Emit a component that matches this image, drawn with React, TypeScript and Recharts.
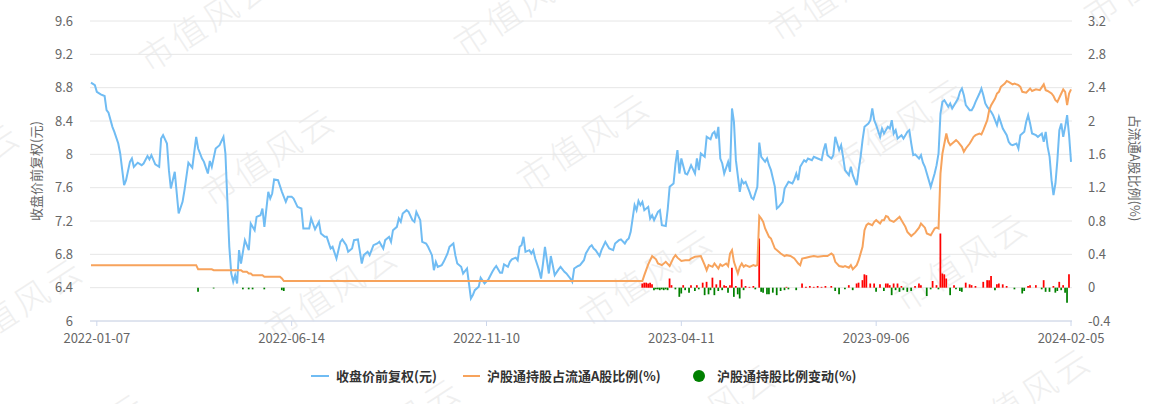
import React from 'react';
import { ComposedChart, Line, Bar, Cell, XAxis, YAxis, CartesianGrid } from 'recharts';

// trading-day index of each labelled date on the x axis
const dateTicks = [3, 103, 203, 303, 403, 503];
const dateLabels = ['2022-01-07', '2022-06-14', '2022-11-10', '2023-04-11', '2023-09-06', '2024-02-05'];

const priceTicks = [6, 6.4, 6.8, 7.2, 7.6, 8, 8.4, 8.8, 9.2, 9.6];
const ratioTicks = [-0.4, 0, 0.4, 0.8, 1.2, 1.6, 2, 2.4, 2.8, 3.2];

// [trading day, close price (qfq)]
const closePrice: [number, number][] = [
  [0, 8.86], [2, 8.83], [3, 8.75], [5, 8.72], [7, 8.7], [8, 8.53], [9, 8.5], [11, 8.33], [12, 8.27], [14, 8.13],
  [15, 8.01], [16, 7.82], [17, 7.63], [18, 7.69], [20, 7.91], [21, 7.95], [22, 7.85], [24, 7.9], [26, 7.87], [27, 7.89],
  [29, 7.98], [30, 7.94], [31, 7.99], [33, 7.88], [35, 7.85], [36, 8.19], [37, 8.23], [39, 8.13], [40, 7.81], [41, 7.59],
  [43, 7.79], [45, 7.29], [47, 7.43], [48, 7.57], [50, 7.9], [52, 7.84], [54, 8.21], [55, 8.07], [57, 7.95], [58, 7.91],
  [60, 7.77], [61, 7.92], [62, 7.85], [64, 8.07], [66, 8.11], [68, 8.21], [69, 8.01], [70, 7.45], [71, 6.89], [72, 6.57],
  [73, 6.47], [74, 6.55], [75, 6.45], [76, 6.85], [77, 6.69], [79, 6.97], [81, 6.85], [82, 7.17], [84, 7.09], [85, 7.25],
  [87, 7.27], [88, 7.35], [89, 7.13], [91, 7.55], [92, 7.47], [93, 7.53], [94, 7.7], [96, 7.69], [98, 7.55], [100, 7.43],
  [101, 7.49], [103, 7.49], [104, 7.47], [106, 7.37], [108, 7.35], [109, 7.11], [111, 7.11], [112, 7.11], [113, 7.23], [115, 7.1],
  [117, 7.19], [118, 7.05], [120, 7.01], [121, 7.01], [123, 6.87], [124, 6.89], [126, 6.75], [128, 6.95], [129, 6.98], [131, 6.91],
  [132, 6.83], [134, 6.87], [135, 6.97], [137, 6.98], [139, 6.69], [140, 6.79], [142, 6.83], [143, 6.79], [145, 6.91], [147, 6.93],
  [148, 6.95], [150, 6.87], [151, 6.97], [153, 7.01], [154, 6.95], [155, 7.09], [157, 7.13], [158, 7.23], [159, 7.19], [160, 7.29],
  [162, 7.33], [163, 7.31], [165, 7.21], [166, 7.19], [167, 7.31], [169, 7.21], [170, 6.95], [172, 6.93], [173, 6.89], [175, 6.79],
  [176, 6.61], [177, 6.71], [178, 6.65], [180, 6.67], [181, 6.71], [183, 6.81], [184, 6.89], [186, 6.93], [187, 6.79], [188, 6.69],
  [190, 6.65], [191, 6.57], [193, 6.63], [194, 6.45], [195, 6.27], [196, 6.31], [197, 6.37], [199, 6.41], [200, 6.52], [202, 6.45],
  [204, 6.5], [206, 6.59], [207, 6.63], [208, 6.66], [210, 6.58], [211, 6.58], [212, 6.68], [214, 6.65], [215, 6.71], [216, 6.74],
  [218, 6.76], [219, 6.73], [220, 6.89], [221, 6.91], [222, 7.01], [223, 6.83], [225, 6.85], [226, 6.81], [227, 6.85], [228, 6.75],
  [230, 6.61], [231, 6.51], [232, 6.69], [233, 6.89], [234, 6.73], [235, 6.57], [236, 6.78], [237, 6.67], [238, 6.55], [240, 6.62],
  [241, 6.65], [243, 6.59], [244, 6.57], [246, 6.51], [247, 6.47], [248, 6.63], [250, 6.66], [251, 6.67], [253, 6.73], [254, 6.81],
  [256, 6.89], [257, 6.91], [258, 6.87], [259, 6.85], [261, 6.78], [262, 6.85], [264, 6.95], [265, 6.91], [266, 6.87], [268, 6.85],
  [269, 6.93], [271, 6.97], [272, 6.98], [274, 6.93], [275, 6.97], [276, 6.99], [277, 7.07], [279, 7.39], [280, 7.33], [281, 7.44],
  [282, 7.39], [283, 7.43], [284, 7.33], [286, 7.37], [287, 7.23], [288, 7.27], [289, 7.21], [291, 7.31], [292, 7.33], [293, 7.15],
  [295, 7.14], [296, 7.34], [297, 7.61], [299, 7.65], [300, 7.89], [301, 8.05], [302, 7.77], [303, 7.95], [305, 7.77], [306, 7.76],
  [307, 7.81], [308, 7.87], [310, 7.77], [311, 7.95], [312, 7.81], [313, 8.01], [315, 7.97], [316, 8.21], [318, 8.18], [319, 8.25],
  [320, 8.27], [321, 8.19], [322, 8.33], [323, 7.95], [324, 7.89], [325, 7.77], [327, 7.91], [328, 7.79], [329, 8.55], [330, 8.39],
  [331, 7.93], [333, 7.55], [334, 7.69], [335, 7.65], [336, 7.67], [338, 7.55], [339, 7.48], [340, 7.46], [342, 7.61], [343, 8.14],
  [344, 7.97], [346, 7.91], [347, 7.95], [348, 7.87], [349, 7.81], [351, 7.61], [352, 7.35], [353, 7.37], [355, 7.43], [356, 7.59],
  [357, 7.63], [358, 7.67], [360, 7.65], [361, 7.7], [362, 7.77], [363, 7.69], [364, 7.85], [366, 7.93], [367, 7.91], [368, 7.95],
  [370, 7.93], [371, 7.97], [373, 7.95], [375, 7.93], [376, 8.05], [377, 8.13], [378, 7.99], [380, 7.95], [381, 7.99], [382, 8.21],
  [384, 8.05], [385, 8.11], [386, 7.97], [387, 7.81], [389, 7.75], [390, 7.85], [391, 7.75], [393, 7.63], [394, 7.81], [395, 7.97],
  [396, 8.17], [397, 8.33], [399, 8.37], [400, 8.41], [401, 8.55], [402, 8.41], [403, 8.35], [405, 8.21], [406, 8.31], [407, 8.25],
  [409, 8.33], [410, 8.31], [411, 8.41], [412, 8.25], [413, 8.29], [414, 8.19], [416, 8.23], [417, 8.19], [418, 8.23], [419, 8.27],
  [420, 8.29], [421, 8.13], [422, 7.99], [423, 8.0], [425, 7.95], [426, 7.99], [427, 7.9], [428, 7.85], [429, 7.77], [431, 7.61],
  [432, 7.69], [433, 7.77], [434, 7.87], [435, 8.01], [436, 8.49], [437, 8.63], [438, 8.65], [440, 8.57], [441, 8.61], [442, 8.55],
  [443, 8.59], [445, 8.67], [446, 8.75], [447, 8.79], [448, 8.71], [449, 8.59], [451, 8.53], [452, 8.53], [453, 8.57], [454, 8.63],
  [456, 8.73], [457, 8.79], [458, 8.71], [459, 8.61], [460, 8.57], [462, 8.51], [463, 8.47], [464, 8.41], [465, 8.35], [466, 8.45],
  [467, 8.38], [468, 8.31], [470, 8.23], [471, 8.15], [472, 8.12], [473, 8.11], [475, 8.13], [476, 8.07], [477, 8.23], [479, 8.27],
  [480, 8.39], [481, 8.47], [482, 8.37], [483, 8.25], [485, 8.23], [486, 8.21], [487, 8.23], [488, 8.25], [489, 8.15], [490, 8.27],
  [491, 8.09], [492, 7.97], [493, 7.69], [494, 7.51], [495, 7.65], [496, 7.93], [497, 8.29], [498, 8.37], [499, 8.21], [500, 8.33],
  [501, 8.47], [502, 8.23], [503, 7.91],
];

// [trading day, northbound holding as % of float A shares]
const holdRatio: [number, number][] = [
  [0, 0.27], [54, 0.27], [55, 0.22], [62, 0.22], [63, 0.21], [77, 0.21], [78, 0.19], [80, 0.19], [81, 0.17], [82, 0.17],
  [83, 0.15], [88, 0.15], [89, 0.13], [97, 0.13], [98, 0.11], [99, 0.08], [283, 0.08], [284, 0.15], [286, 0.28], [288, 0.38],
  [290, 0.34], [291, 0.29], [293, 0.27], [295, 0.31], [297, 0.26], [299, 0.36], [300, 0.39], [301, 0.36], [303, 0.32], [305, 0.33],
  [307, 0.33], [308, 0.35], [310, 0.37], [313, 0.38], [315, 0.27], [316, 0.21], [317, 0.27], [319, 0.25], [320, 0.29], [322, 0.23],
  [323, 0.28], [324, 0.26], [326, 0.29], [327, 0.26], [328, 0.41], [329, 0.45], [330, 0.31], [332, 0.17], [333, 0.25], [334, 0.29],
  [335, 0.25], [336, 0.27], [338, 0.25], [340, 0.27], [341, 0.26], [342, 0.27], [343, 0.86], [344, 0.83], [345, 0.79], [346, 0.71],
  [348, 0.61], [349, 0.59], [350, 0.53], [351, 0.47], [353, 0.43], [354, 0.41], [356, 0.38], [357, 0.39], [359, 0.38], [361, 0.35],
  [363, 0.29], [364, 0.27], [365, 0.35], [367, 0.36], [369, 0.37], [371, 0.38], [373, 0.37], [376, 0.38], [378, 0.38], [380, 0.41],
  [381, 0.39], [382, 0.31], [384, 0.26], [386, 0.25], [387, 0.26], [389, 0.24], [390, 0.27], [391, 0.22], [393, 0.27], [394, 0.33],
  [396, 0.49], [397, 0.69], [398, 0.75], [399, 0.77], [401, 0.75], [402, 0.79], [403, 0.81], [405, 0.77], [406, 0.81], [407, 0.81],
  [408, 0.86], [409, 0.85], [410, 0.81], [412, 0.79], [413, 0.81], [415, 0.85], [416, 0.81], [418, 0.73], [419, 0.67], [421, 0.62],
  [423, 0.66], [425, 0.72], [426, 0.77], [428, 0.72], [429, 0.65], [431, 0.63], [433, 0.71], [434, 0.72], [435, 0.71], [436, 1.37],
  [437, 1.61], [439, 1.85], [440, 1.75], [441, 1.71], [442, 1.73], [444, 1.77], [445, 1.75], [447, 1.69], [448, 1.63], [449, 1.67],
  [451, 1.73], [452, 1.77], [453, 1.81], [454, 1.83], [456, 1.85], [457, 1.84], [458, 1.89], [460, 2.01], [461, 2.13], [462, 2.19],
  [464, 2.27], [465, 2.33], [466, 2.35], [467, 2.41], [469, 2.45], [470, 2.48], [471, 2.47], [473, 2.44], [474, 2.45], [476, 2.43],
  [477, 2.41], [478, 2.35], [480, 2.34], [482, 2.39], [483, 2.36], [485, 2.38], [487, 2.37], [489, 2.44], [490, 2.37], [491, 2.36],
  [493, 2.33], [494, 2.3], [495, 2.25], [496, 2.23], [498, 2.33], [499, 2.38], [500, 2.35], [501, 2.19], [502, 2.33], [503, 2.38],
];

// [trading day, daily change of holding ratio]
const holdChange: [number, number][] = [
  [55, -0.05], [63, -0.01], [78, -0.02], [81, -0.02], [83, -0.02], [89, -0.02], [98, -0.03], [99, -0.04],
  [283, 0.05], [284, 0.06], [285, 0.06], [286, 0.05], [287, 0.06], [288, 0.04], [289, -0.03], [290, -0.02], [291, -0.02], [292, -0.03],
  [293, -0.02], [294, -0.03], [295, -0.02], [296, -0.03], [297, 0.11], [298, 0.03], [300, -0.02], [302, -0.11], [303, -0.07], [304, 0.03],
  [305, -0.03], [307, -0.06], [308, 0.03], [310, -0.04], [311, 0.03], [312, -0.02], [314, 0.06], [315, -0.09], [316, 0.07], [317, -0.08],
  [318, -0.03], [319, 0.12], [320, -0.09], [321, 0.04], [322, -0.04], [323, 0.09], [324, -0.03], [325, 0.03], [326, 0.02], [327, -0.06],
  [328, 0.03], [329, 0.24], [330, -0.11], [331, 0.02], [332, -0.08], [333, -0.13], [334, 0.1], [335, -0.03], [336, 0.02], [338, 0.01],
  [340, 0.02], [341, -0.02], [343, 0.59], [344, -0.05], [345, -0.06], [347, -0.08], [348, -0.08], [350, -0.06], [352, -0.09], [354, -0.04],
  [356, -0.03], [357, 0.01], [358, -0.02], [362, -0.03], [365, 0.05], [367, 0.01], [369, 0.02], [371, 0.01], [373, 0.02], [375, 0.01],
  [377, 0.02], [380, 0.02], [382, -0.04], [384, -0.08], [387, -0.02], [389, 0.03], [391, -0.03], [393, 0.05], [394, 0.06], [396, 0.09],
  [397, 0.16], [398, 0.15], [400, 0.05], [402, 0.05], [403, -0.05], [405, 0.04], [407, -0.04], [408, 0.05], [409, 0.05], [410, 0.03],
  [411, -0.09], [412, 0.05], [413, -0.03], [414, 0.05], [415, -0.05], [416, 0.02], [417, -0.03], [419, -0.05], [421, -0.04], [423, 0.02],
  [425, 0.05], [426, 0.03], [429, -0.1], [431, -0.02], [432, 0.08], [434, 0.03], [435, -0.02], [436, 0.65], [437, 0.17], [438, 0.16],
  [439, 0.11], [441, -0.09], [443, 0.03], [444, -0.02], [446, -0.04], [447, -0.05], [449, 0.06], [451, 0.04], [452, 0.03], [454, 0.02],
  [458, 0.07], [460, 0.09], [461, 0.09], [462, 0.14], [464, -0.03], [465, 0.04], [466, 0.05], [468, 0.04], [470, 0.02], [474, -0.02],
  [478, -0.07], [479, -0.04], [481, 0.02], [482, 0.03], [485, 0.03], [488, -0.02], [489, 0.09], [490, -0.05], [492, -0.05], [494, 0.02],
  [495, -0.06], [496, -0.04], [497, 0.07], [498, -0.03], [499, 0.03], [500, -0.06], [501, -0.18], [502, 0.16],
];

// watermark centres
const watermarks: [number, number][] = [
  [205, 20], [520, 5], [835, -10], [1150, -25],
  [268, 155], [583, 140], [898, 125], [-47, 170],
  [16, 305], [331, 290], [646, 275], [961, 260],
  [79, 440], [394, 425], [709, 410], [1024, 395],
];

type Row = { day: number; price?: number; hold?: number; chg?: number };

const rowMap = new Map<number, Row>();
const put = (day: number, key: 'price' | 'hold' | 'chg', v: number) => {
  const r = rowMap.get(day) ?? { day };
  r[key] = v;
  rowMap.set(day, r);
};
closePrice.forEach(([d, v]) => put(d, 'price', v));
holdRatio.forEach(([d, v]) => put(d, 'hold', v));
holdChange.forEach(([d, v]) => put(d, 'chg', v));
const data = [...rowMap.values()].sort((a, b) => a.day - b.day);

const BLUE = '#70bcf3';
const ORANGE = '#f7a35c';
const FONT = '"Noto Sans CJK SC", "Noto Sans", sans-serif';
const tickStyle = { fill: '#666666', fontSize: 13 };

const legendText = { position: 'absolute' as const, top: 0, lineHeight: '18px' };

export default function App() {
  return (
    <div style={{ position: 'absolute', left: 0, top: 0, width: 1153, height: 404, background: '#fff', fontFamily: FONT, overflow: 'hidden' }}>
      {watermarks.map(([x, y], k) => (
        <div
          key={k}
          style={{
            position: 'absolute',
            left: x,
            top: y,
            transform: 'translate(-50%, -50%) rotate(-33deg)',
            fontSize: 34,
            letterSpacing: 4,
            color: '#efefef',
            whiteSpace: 'nowrap',
            fontWeight: 300,
          }}
        >
          市值风云
        </div>
      ))}

      <div style={{ position: 'absolute', left: 0, top: 0 }}>
        <ComposedChart width={1153} height={404} data={data} margin={{ top: 21, right: 0, bottom: 53, left: 0 }}>
          <CartesianGrid yAxisId="left" vertical={false} stroke="#e6e6e6" />
          <XAxis
            dataKey="day"
            type="number"
            domain={[-0.5, 503.5]}
            allowDataOverflow
            ticks={dateTicks}
            interval={0}
            tickFormatter={(v: number) => dateLabels[dateTicks.indexOf(v)]}
            stroke="#ccd6eb"
            tick={tickStyle}
            tickSize={5}
            tickMargin={8}
            height={30}
          />
          <YAxis
            yAxisId="left"
            domain={[6, 9.6]}
            ticks={priceTicks}
            interval={0}
            axisLine={false}
            tickLine={false}
            tickSize={0}
            tickMargin={17}
            width={90}
            tick={tickStyle}
          />
          <YAxis
            yAxisId="right"
            orientation="right"
            domain={[-0.4, 3.2]}
            ticks={ratioTicks}
            interval={0}
            axisLine={false}
            tickLine={false}
            tickSize={0}
            tickMargin={16}
            width={81}
            tick={tickStyle}
          />
          <Line yAxisId="left" dataKey="price" stroke={BLUE} strokeWidth={2} dot={false} connectNulls isAnimationActive={false} />
          <Line yAxisId="right" dataKey="hold" stroke={ORANGE} strokeWidth={2} dot={false} connectNulls isAnimationActive={false} />
          <Bar yAxisId="right" dataKey="chg" barSize={2} isAnimationActive={false}>
            {data.map((r) => (
              <Cell key={r.day} fill={(r.chg ?? 0) >= 0 ? '#ff0000' : '#008000'} />
            ))}
          </Bar>
        </ComposedChart>
      </div>

      <div style={{ position: 'absolute', left: 35, top: 171, transform: 'translate(-50%, -50%) rotate(-90deg)', whiteSpace: 'nowrap', fontSize: 13, color: '#666' }}>
        收盘价前复权(元)
      </div>
      <div style={{ position: 'absolute', left: 1135, top: 168, transform: 'translate(-50%, -50%) rotate(90deg)', whiteSpace: 'nowrap', fontSize: 13, color: '#666' }}>
        占流通A股比例(%)
      </div>

      <div style={{ position: 'absolute', left: 0, top: 367, width: 1153, height: 18, fontSize: 13, fontWeight: 700, color: '#333', whiteSpace: 'nowrap' }}>
        <span style={{ position: 'absolute', left: 311, top: 8, width: 18, height: 2, background: BLUE }} />
        <span style={{ ...legendText, left: 336 }}>收盘价前复权(元)</span>
        <span style={{ position: 'absolute', left: 463, top: 8, width: 17, height: 2, background: ORANGE }} />
        <span style={{ ...legendText, left: 487 }}>沪股通持股占流通A股比例(%)</span>
        <span style={{ position: 'absolute', left: 693, top: 3, width: 12, height: 12, borderRadius: 6, background: '#008000' }} />
        <span style={{ ...legendText, left: 717 }}>沪股通持股比例变动(%)</span>
      </div>
    </div>
  );
}
